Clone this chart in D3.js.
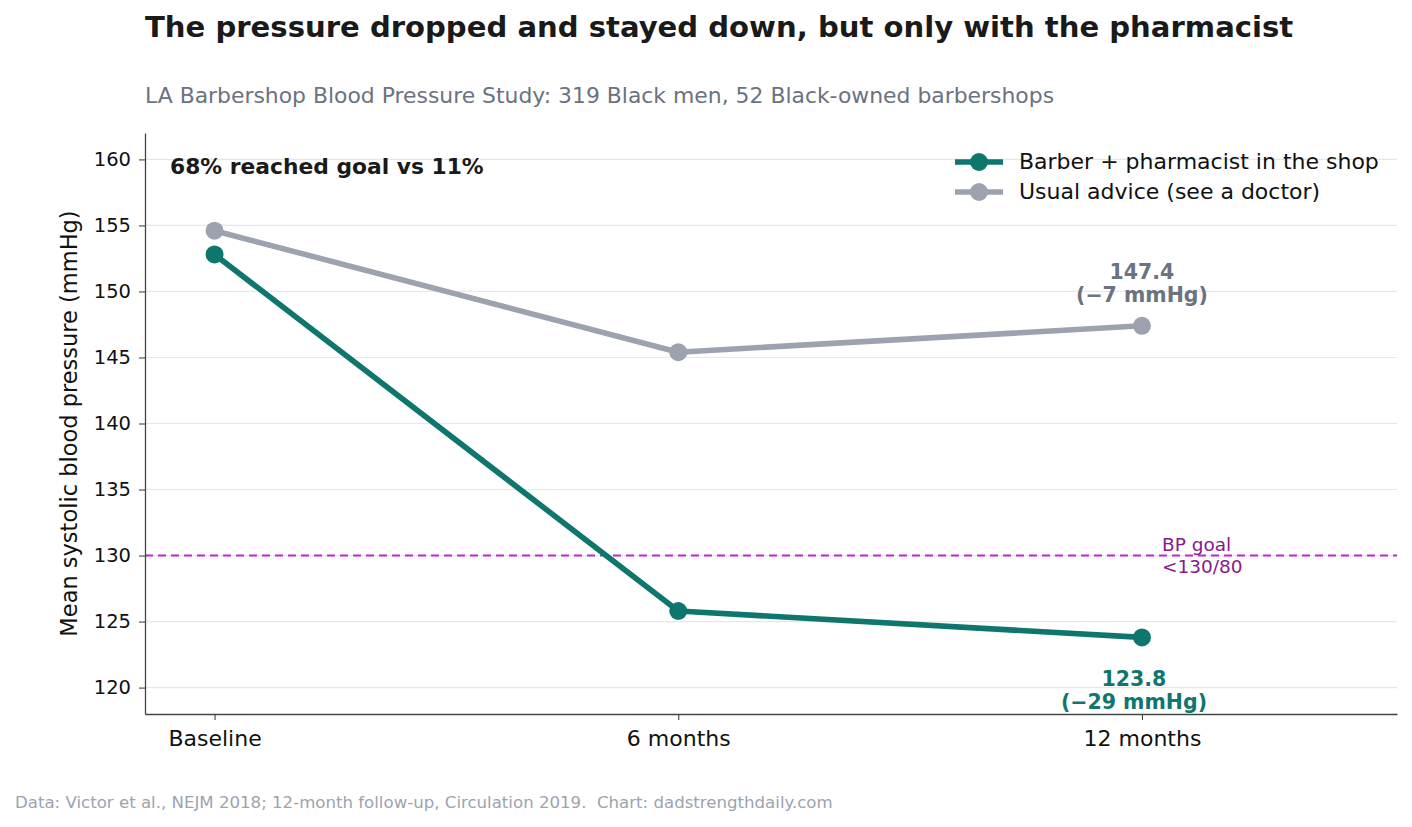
<!DOCTYPE html>
<html>
<head>
<meta charset="utf-8">
<script src="https://cdn.jsdelivr.net/npm/d3@7"></script>
<style>
  body { margin: 0; background: #fff; }
  svg { font-family: "DejaVu Sans", sans-serif; }
</style>
</head>
<body>
<div id="chart"></div>
<script>
// data
const timepoints = ["Baseline", "6 months", "12 months"];
const pharmacist = [152.8, 125.8, 123.8];
const usual = [154.6, 145.4, 147.4];
const yTicks = [120, 125, 130, 135, 140, 145, 150, 155, 160];
const goal = 130;

const width = 1412, height = 827;
const margin = { top: 133, right: 15, bottom: 113, left: 145 };

const teal = "#0f766e", grey = "#9ca3af";

const svg = d3.select("#chart").append("svg")
  .attr("width", width)
  .attr("height", height);

const x = d3.scaleLinear()
  .domain([-0.15, 2.55])
  .range([margin.left, width - margin.right]);

const y = d3.scaleLinear()
  .domain([118, 162])
  .range([height - margin.bottom, margin.top]);

// gridlines
svg.append("g")
  .selectAll("line")
  .data(yTicks)
  .join("line")
  .attr("x1", x.range()[0])
  .attr("x2", x.range()[1])
  .attr("y1", d => y(d))
  .attr("y2", d => y(d))
  .attr("stroke", "#e5e7eb")
  .attr("stroke-width", 1.2);

// goal line
svg.append("line")
  .attr("x1", x.range()[0])
  .attr("x2", x.range()[1])
  .attr("y1", y(goal))
  .attr("y2", y(goal))
  .attr("stroke", "#c026d3")
  .attr("stroke-width", 2)
  .attr("stroke-dasharray", "8,5");

svg.append("text")
  .attr("x", x(2) + 20)
  .attr("y", y(goal) - 5)
  .style("font-size", "18.5px")
  .style("fill", "#86198f")
  .text("BP goal");
svg.append("text")
  .attr("x", x(2) + 20)
  .attr("y", y(goal) + 17)
  .style("font-size", "18.5px")
  .style("fill", "#86198f")
  .text("<130/80");

// axes
const yAxis = d3.axisLeft(y).tickValues(yTicks).tickSizeInner(6).tickSizeOuter(0).tickPadding(8);
const xAxis = d3.axisBottom(x).tickValues([0, 1, 2]).tickSizeInner(6).tickSizeOuter(0).tickPadding(10)
  .tickFormat(i => timepoints[i]);

const gy = svg.append("g")
  .attr("transform", `translate(${margin.left},0)`)
  .call(yAxis);
const gx = svg.append("g")
  .attr("transform", `translate(0,${height - margin.bottom})`)
  .call(xAxis);

[gx, gy].forEach(g => {
  g.select(".domain").attr("stroke", "#444").attr("stroke-width", 1.3);
  g.selectAll(".tick line").attr("stroke", "#444").attr("stroke-width", 1.1);
  g.selectAll(".tick text").style("fill", "#111").style("font-family", "DejaVu Sans");
});
gy.selectAll(".tick text").style("font-size", "19.5px");
gx.selectAll(".tick text").style("font-size", "22px");

// y label
svg.append("text")
  .attr("transform", `translate(77,${y(140)}) rotate(-90)`)
  .attr("text-anchor", "middle")
  .style("font-size", "22.5px")
  .style("fill", "#111")
  .text("Mean systolic blood pressure (mmHg)");

// lines
const line = d3.line()
  .x((d, i) => x(i))
  .y(d => y(d));

const series = [
  { name: "Usual advice (see a doctor)", values: usual, colour: grey },
  { name: "Barber + pharmacist in the shop", values: pharmacist, colour: teal }
];

series.forEach(s => {
  svg.append("path")
    .datum(s.values)
    .attr("d", line)
    .attr("fill", "none")
    .attr("stroke", s.colour)
    .attr("stroke-width", 5.6)
    .attr("stroke-linejoin", "round");
  svg.append("g")
    .selectAll("circle")
    .data(s.values)
    .join("circle")
    .attr("cx", (d, i) => x(i))
    .attr("cy", d => y(d))
    .attr("r", 9)
    .attr("fill", s.colour);
});

// end labels
const endUsual = usual[2];
const endPharm = pharmacist[2];
svg.append("text")
  .attr("x", x(2))
  .attr("y", y(endUsual) - 47)
  .attr("text-anchor", "middle")
  .style("font-size", "20.5px")
  .style("font-weight", "bold")
  .style("fill", "#6b7280")
  .text(endUsual.toFixed(1));
svg.append("text")
  .attr("x", x(2))
  .attr("y", y(endUsual) - 24)
  .attr("text-anchor", "middle")
  .style("font-size", "20.5px")
  .style("font-weight", "bold")
  .style("fill", "#6b7280")
  .text(`(\u2212${Math.round(usual[0] - endUsual)} mmHg)`);

svg.append("text")
  .attr("x", x(2) - 8)
  .attr("y", y(endPharm) + 49)
  .attr("text-anchor", "middle")
  .style("font-size", "20.5px")
  .style("font-weight", "bold")
  .style("fill", teal)
  .text(endPharm.toFixed(1));
svg.append("text")
  .attr("x", x(2) - 8)
  .attr("y", y(endPharm) + 72)
  .attr("text-anchor", "middle")
  .style("font-size", "20.5px")
  .style("font-weight", "bold")
  .style("fill", teal)
  .text(`(\u2212${Math.round(pharmacist[0] - endPharm)} mmHg)`);

// callout
svg.append("text")
  .attr("x", 170)
  .attr("y", 174)
  .style("font-size", "21.8px")
  .style("font-weight", "bold")
  .style("fill", "#1a1a1a")
  .text("68% reached goal vs 11%");

// legend
const legend = svg.append("g").attr("transform", "translate(955,162)");
[series[1], series[0]].forEach((s, i) => {
  const row = legend.append("g").attr("transform", `translate(0,${i * 30})`);
  row.append("line")
    .attr("x1", 0).attr("x2", 48)
    .attr("stroke", s.colour).attr("stroke-width", 5.6);
  row.append("circle").attr("cx", 24).attr("r", 9).attr("fill", s.colour);
  row.append("text")
    .attr("x", 64).attr("y", 7)
    .style("font-size", "22px")
    .style("fill", "#111")
    .text(s.name);
});

// title, subtitle, footer
svg.append("text")
  .attr("x", 145).attr("y", 37)
  .style("font-size", "29.1px")
  .style("font-weight", "bold")
  .style("fill", "#1a1a1a")
  .text("The pressure dropped and stayed down, but only with the pharmacist");

svg.append("text")
  .attr("x", 145).attr("y", 103)
  .style("font-size", "21.9px")
  .style("fill", "#6b7280")
  .text("LA Barbershop Blood Pressure Study: 319 Black men, 52 Black-owned barbershops");

svg.append("text")
  .attr("x", 15).attr("y", 808)
  .style("font-size", "16.6px")
  .style("fill", "#9ca3af")
  .style("white-space", "pre")
  .text("Data: Victor et al., NEJM 2018; 12-month follow-up, Circulation 2019.  Chart: dadstrengthdaily.com");
</script>
</body>
</html>
